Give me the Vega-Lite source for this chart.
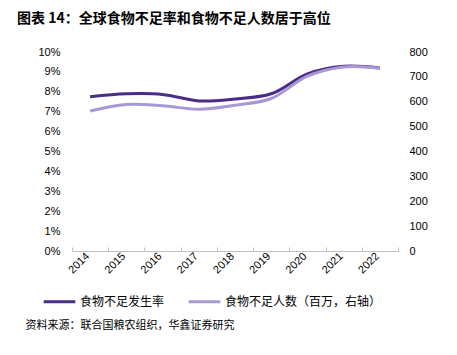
{
  "$schema": "https://vega.github.io/schema/vega-lite/v6.json",
  "width": 326,
  "height": 199,
  "autosize": {"type": "none"},
  "padding": {"left": 72, "top": 52, "right": 59, "bottom": 104},
  "background": "white",
  "config": {"view": {"stroke": null}, "font": "Liberation Sans"},
  "title": {
    "text": "图表 14：全球食物不足率和食物不足人数居于高位",
    "anchor": "start",
    "frame": "group",
    "dx": -55,
    "offset": 20,
    "font": "Noto Sans CJK SC",
    "fontSize": 14,
    "fontWeight": "bold",
    "color": "#000000"
  },
  "data": {
    "values": [
      {"year": "2014", "rate": 0.0775, "people": 563},
      {"year": "2015", "rate": 0.079, "people": 589},
      {"year": "2016", "rate": 0.0787, "people": 584},
      {"year": "2017", "rate": 0.0754, "people": 570},
      {"year": "2018", "rate": 0.0764, "people": 586},
      {"year": "2019", "rate": 0.079, "people": 613},
      {"year": "2020", "rate": 0.089, "people": 703},
      {"year": "2021", "rate": 0.0928, "people": 740},
      {"year": "2022", "rate": 0.092, "people": 735}
    ]
  },
  "encoding": {
    "x": {
      "field": "year",
      "type": "ordinal",
      "bandPosition": 0.5,
      "scale": {"type": "band", "paddingInner": 0, "paddingOuter": 0},
      "axis": {
        "title": "资料来源：联合国粮农组织，华鑫证券研究",
        "titleFont": "Noto Sans CJK SC",
        "titleFontSize": 11,
        "titleFontWeight": "normal",
        "titleColor": "#000000",
        "titleAnchor": "start",
        "titleAlign": "left",
        "titleBaseline": "middle",
        "titleX": -47,
        "titleY": 74,
        "labelAngle": -45,
        "labelFontSize": 11,
        "labelColor": "#000000",
        "labelPadding": 3,
        "labelOffset": -7,
        "tickBand": "extent",
        "tickSize": -4,
        "tickColor": "#BFBFBF",
        "domainColor": "#BFBFBF",
        "grid": false
      }
    }
  },
  "layer": [
    {
      "mark": {"type": "line", "interpolate": "catmull-rom", "strokeWidth": 3},
      "encoding": {
        "y": {
          "field": "rate",
          "type": "quantitative",
          "scale": {"domain": [0, 0.1]},
          "axis": {
            "title": null,
            "format": ".0%",
            "values": [0, 0.01, 0.02, 0.03, 0.04, 0.05, 0.06, 0.07, 0.08, 0.09, 0.1],
            "grid": false,
            "domain": false,
            "ticks": false,
            "labelPadding": 12,
            "labelFontSize": 11,
            "labelColor": "#000000"
          }
        },
        "color": {
          "datum": "食物不足发生率",
          "type": "nominal",
          "scale": {
            "domain": ["食物不足发生率", "食物不足人数（百万，右轴）"],
            "range": ["#4B2C87", "#A899D6"]
          },
          "legend": {
            "title": null,
            "orient": "none",
            "legendX": -30,
            "legendY": 232,
            "direction": "horizontal",
            "symbolType": "stroke",
            "symbolStrokeWidth": 3,
            "symbolSize": 1000,
            "labelFont": "Noto Sans CJK SC",
            "labelFontSize": 12,
            "labelColor": "#000000",
            "labelOffset": 3,
            "columnPadding": 17
          }
        }
      }
    },
    {
      "mark": {"type": "line", "interpolate": "catmull-rom", "strokeWidth": 3},
      "encoding": {
        "y": {
          "field": "people",
          "type": "quantitative",
          "scale": {"domain": [0, 800]},
          "axis": {
            "orient": "right",
            "title": null,
            "values": [0, 100, 200, 300, 400, 500, 600, 700, 800],
            "grid": false,
            "domain": false,
            "ticks": false,
            "labelPadding": 11,
            "labelFontSize": 11,
            "labelColor": "#000000"
          }
        },
        "color": {"datum": "食物不足人数（百万，右轴）", "type": "nominal"}
      }
    }
  ],
  "resolve": {"scale": {"y": "independent"}}
}
